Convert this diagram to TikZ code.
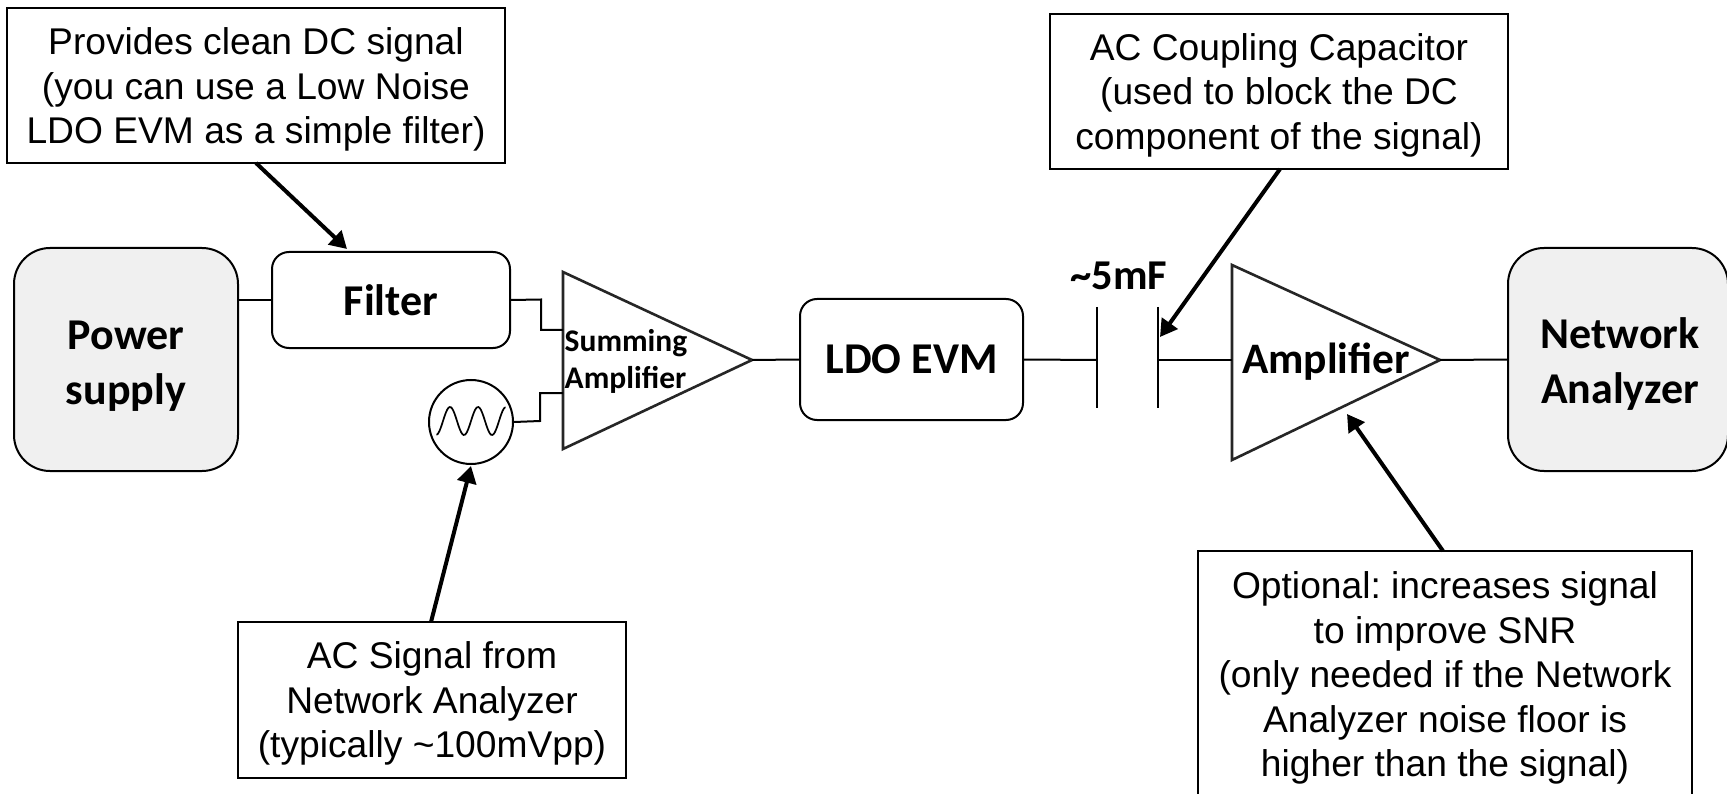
\documentclass[tikz,border=0pt]{standalone}
\usepackage{fontspec}
\setmainfont{Liberation Sans}
\newfontfamily\boldcal[BoldFont={Carlito Bold}]{Carlito}
\usetikzlibrary{arrows.meta,calc}
\tikzset{
  x=1pt,y=-1pt,
  wire/.style={draw=black,line width=2pt},
  note/.style={draw=black,line width=2pt,rectangle,align=center,inner sep=0pt,fill=white,
     font=\fontsize{37.2}{44.5}\selectfont\frenchspacing},
  callarrow/.style={draw=black,line width=4pt,-{Triangle[length=17pt,width=19pt]}},
  block/.style={draw=black,line width=2pt,rectangle,rounded corners=17pt,align=center,inner sep=0pt,
     font=\fontsize{44}{55}\boldcal\bfseries\selectfont},
  source/.style={block,rounded corners=36pt,fill=black!6},
  amp/.style={draw=black!85,line width=2.6pt,line join=miter},
  label/.style={inner sep=0pt,align=center,font=\fontsize{43.5}{53}\boldcal\bfseries\selectfont},
}
\newcommand{\boxat}[7]{\node[#1,minimum width=#5pt-#4pt,minimum height=#7pt-#6pt] (#2) at ({(#4+#5)/2},{(#6+#7)/2}) {#3};}
\newcommand{\shiftlines}[2]{\raisebox{-#1}[\dimexpr\height+#1\relax][\dimexpr\depth+#1\relax]{\begin{tabular}{@{}c@{}}#2\end{tabular}}}
\begin{document}
\begin{tikzpicture}
\useasboundingbox (0,0) rectangle (1727,794);
\fill[white] (0,0) rectangle (1727,794);
% blocks
\boxat{source}{power}{\shiftlines{6.5pt}{Power\\supply}}{14}{238}{248}{471}
\boxat{block}{filter}{Filter}{272}{510}{252}{348}
\boxat{block}{ldo}{LDO EVM}{800}{1023}{299}{420}
\boxat{source}{analyzer}{\hspace*{4pt}\shiftlines{6pt}{Network\\Analyzer}}{1508}{1728}{248}{471}
% source circle
\node[draw=black,line width=2pt,circle,minimum size=84pt,inner sep=0pt] (sine) at (471,422) {};
\draw[line width=1.7pt,line cap=round,smooth] plot[domain=437:505,samples=60] (\x,{421+14*cos((\x-464)*360/28)});
% triangles
\coordinate (sumtop) at (563,272);
\coordinate (sumbot) at (563,449);
\coordinate (sumtip) at (752,360);
\coordinate (sumin1) at (563,330);
\coordinate (sumin2) at (563,393);
\draw[amp] (sumtop) -- (sumtip) -- (sumbot) -- cycle;
\coordinate (amptop) at (1232,265);
\coordinate (ampbot) at (1232,460);
\coordinate (amptip) at (1440,360);
\coordinate (ampin) at (1232,360);
\draw[amp] (amptop) -- (amptip) -- (ampbot) -- cycle;
\node[inner sep=0pt,align=left,font=\fontsize{31.5}{37}\boldcal\bfseries\selectfont] (sumlabel) at (626,361) {Summing\\Amplifier};
\node[label] (amplabel) at (1326,362) {Amplifier};
% capacitor
\coordinate (capAt) at (1097,307);
\coordinate (capAb) at (1097,408);
\coordinate (capBt) at (1158,307);
\coordinate (capBb) at (1158,408);
\coordinate (capA) at (1097,360);
\coordinate (capB) at (1158,360);
\draw[wire] (capAt) -- (capAb);
\draw[wire] (capBt) -- (capBb);
\node[inner sep=0pt,font=\fontsize{42.5}{53}\boldcal\bfseries\selectfont] (caplabel) at (1119,276) {\textasciitilde5mF};
% wires
\draw[wire] (power.east |- filter.west) -- (filter.west);
\draw[wire] (filter.east) -- (541,299.5) -- (541,330) -- (sumin1);
\draw[wire] (sine.east) -- (540,421) -- (540,393) -- (sumin2);
\draw[wire] (sumtip) -- (ldo.west);
\draw[wire] (ldo.east) -- (capA);
\draw[wire] (capB) -- (ampin);
\draw[wire] (amptip) -- (analyzer.west);
% callouts
\boxat{note}{n1}{\shiftlines{5pt}{Provides clean DC signal\\(you can use a Low Noise\\LDO EVM as a simple filter)}}{7}{505}{8}{163}
\boxat{note}{n2}{\shiftlines{4.4pt}{AC Coupling Capacitor\\(used to block the DC\\component of the signal)}}{1050}{1508}{14}{169}
\boxat{note}{n3}{\shiftlines{4.5pt}{AC Signal from\\Network Analyzer\\(typically \textasciitilde100mVpp)}}{238}{626}{622}{778}
\boxat{note}{n4}{\shiftlines{3.5pt}{Optional: increases signal\\to improve SNR\\(only needed if the Network\\Analyzer noise floor is\\higher than the signal)}}{1198}{1692}{551}{800}
% callout arrows
\coordinate (t1) at (347,249);
\coordinate (t2) at (1160,337);
\coordinate (t3) at (471,466);
\coordinate (t4) at (1347,414);
\draw[callarrow] (256,163) -- (t1);
\draw[callarrow] (1280,169) -- (t2);
\draw[callarrow] (431,622) -- (t3);
\draw[callarrow] (1443,551) -- (t4);
\end{tikzpicture}
\end{document}
